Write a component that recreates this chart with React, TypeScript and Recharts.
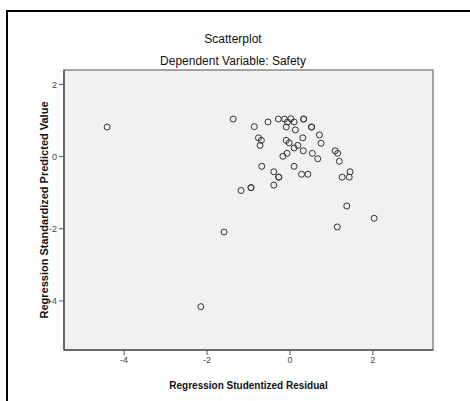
import React from "react";
import {
  ScatterChart,
  Scatter,
  XAxis,
  YAxis,
  ReferenceArea,
} from "recharts";

const residuals = [
  -4.41, -1.37, -1.59, -2.15,
  -0.86, -0.53, -0.28, -0.13, 0.02, -0.06, 0.1, 0.33, 0.33,
  -0.09, 0.13, 0.52, 0.52, -0.76, -0.69, -0.72, 0.31, 0.71, 0.75,
  -0.09, -0.02, 0.19, 0.1, 0.32, -0.07, -0.17, 0.54, 0.67,
  1.09, 1.15, 1.19, -0.68, 0.1, -0.39, -0.27, -0.27, 0.28, 0.43,
  1.45, 1.26, 1.43, -1.18, -0.94, -0.94, -0.39, 1.37, 2.03, 1.14,
];

const predicted = [
  0.82, 1.04, -2.09, -4.16,
  0.83, 0.96, 1.04, 1.04, 1.05, 0.96, 0.96, 1.04, 1.04,
  0.82, 0.74, 0.82, 0.82, 0.52, 0.45, 0.31, 0.52, 0.6, 0.37,
  0.45, 0.38, 0.31, 0.24, 0.16, 0.09, 0.01, 0.09, -0.06,
  0.16, 0.09, -0.13, -0.27, -0.27, -0.42, -0.57, -0.57, -0.49, -0.49,
  -0.42, -0.57, -0.57, -0.94, -0.86, -0.86, -0.79, -1.37, -1.71, -1.95,
];

const xTicks = [-4, -2, 0, 2];
const yTicks = [2, 0, -2, -4];

const title = "Scatterplot";
const subtitle = "Dependent Variable: Safety";
const xLabel = "Regression Studentized Residual";
const yLabel = "Regression Standardized Predicted Value";

const X_DOMAIN: [number, number] = [-5.45, 3.45];
const Y_DOMAIN: [number, number] = [-5.36, 2.4];

const data = residuals.map((x, i) => ({ x, y: predicted[i] }));

const FONT = "'Liberation Sans', Arial, sans-serif";

const Ring = (props: any) => {
  const { cx, cy } = props;
  if (cx == null || cy == null) return null;
  return <circle cx={cx} cy={cy} r={3} fill="none" stroke="#333" strokeWidth={1} />;
};

export default function App() {
  return (
    <div
      style={{
        position: "absolute",
        left: 0,
        top: 0,
        width: 470,
        height: 401,
        background: "#fff",
        overflow: "hidden",
        fontFamily: FONT,
      }}
    >
      <div
        style={{
          position: "absolute",
          left: 6,
          top: 10,
          width: 470,
          height: 401,
          borderTop: "2px solid #000",
          borderLeft: "2px solid #000",
        }}
      />
      <div
        style={{
          position: "absolute",
          left: 0,
          top: 32,
          width: 466,
          textAlign: "center",
          fontSize: 12,
          color: "#111",
        }}
      >
        {title}
      </div>
      <div
        style={{
          position: "absolute",
          left: 0,
          top: 54,
          width: 466,
          textAlign: "center",
          fontSize: 12,
          color: "#111",
        }}
      >
        {subtitle}
      </div>
      <div style={{ position: "absolute", left: 0, top: 0 }}>
        <ScatterChart
          width={470}
          height={401}
          margin={{ top: 70, right: 37, left: 0, bottom: 0 }}
        >
          <XAxis
            type="number"
            dataKey="x"
            domain={X_DOMAIN}
            ticks={xTicks}
            allowDataOverflow
            height={51}
            axisLine={{ stroke: "#555", strokeWidth: 1.5 }}
            tickLine={{ stroke: "#555" }}
            tickSize={5}
            tick={{ fontSize: 9, fill: "#444", fontFamily: FONT }}
            label={{
              value: xLabel,
              position: "insideBottom",
              offset: 12,
              style: { fontSize: 10, fontWeight: "bold", fill: "#111", fontFamily: FONT },
            }}
          />
          <YAxis
            type="number"
            dataKey="y"
            domain={Y_DOMAIN}
            ticks={yTicks}
            allowDataOverflow
            width={64}
            axisLine={{ stroke: "#555", strokeWidth: 1.5 }}
            tickLine={{ stroke: "#555" }}
            tickSize={5}
            tick={{ fontSize: 9, fill: "#444", fontFamily: FONT }}
            label={{
              value: yLabel,
              angle: -90,
              position: "insideLeft",
              offset: 44,
              style: {
                fontSize: 11,
                fontWeight: "bold",
                fill: "#111",
                fontFamily: FONT,
                textAnchor: "middle",
              },
            }}
          />
          <ReferenceArea
            x1={X_DOMAIN[0]}
            x2={X_DOMAIN[1]}
            y1={Y_DOMAIN[0]}
            y2={Y_DOMAIN[1]}
            fill="#f1f1f1"
            fillOpacity={1}
            stroke="#888"
            strokeWidth={1.5}
          />
          <Scatter data={data} isAnimationActive={false} shape={Ring} />
        </ScatterChart>
      </div>
    </div>
  );
}
